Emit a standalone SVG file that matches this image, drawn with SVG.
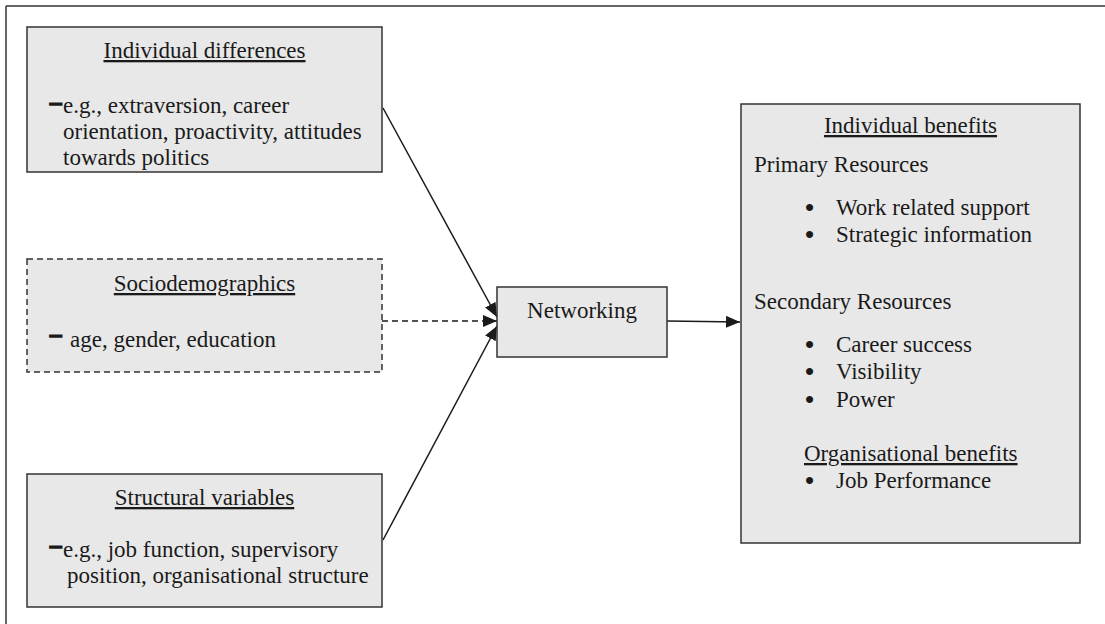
<svg xmlns="http://www.w3.org/2000/svg" width="1105" height="624" viewBox="0 0 1105 624">
  <style>
    .box { fill: #e8e8e8; stroke: #333333; stroke-width: 1.5; }
    .dashed { stroke-dasharray: 6 4; }
    text { font-family: "Liberation Serif", "Times New Roman", serif; font-size: 23px; fill: #1a1a1a; }
    .title { text-anchor: middle; text-decoration: underline; }
    .mid { text-anchor: middle; }
    .dash { font-weight: bold; stroke: #1a1a1a; stroke-width: 1.6; }
    .bullet { font-size: 26px; font-weight: bold; }
    .edge { stroke: #1a1a1a; stroke-width: 1.5; fill: none; }
  </style>
  <defs>
    <marker id="arrow" viewBox="0 0 14 12" refX="14" refY="6" markerWidth="14" markerHeight="12" markerUnits="userSpaceOnUse" orient="auto">
      <path d="M0,0 L14,6 L0,12 Z" fill="#1a1a1a"/>
    </marker>
  </defs>

  <rect width="1105" height="624" fill="#ffffff"/>
  <!-- frame: top and left rules -->
  <line x1="6" y1="6" x2="1105" y2="6" stroke="#333333" stroke-width="1.5"/>
  <line x1="6" y1="6" x2="6" y2="624" stroke="#333333" stroke-width="1.5"/>

  <g id="connectors">
    <line class="edge" x1="383" y1="108" x2="497" y2="317" marker-end="url(#arrow)"/>
    <line class="edge dashed" x1="382" y1="321" x2="497" y2="321" marker-end="url(#arrow)"/>
    <line class="edge" x1="383" y1="540" x2="497" y2="326" marker-end="url(#arrow)"/>
    <line class="edge" x1="667" y1="321" x2="740" y2="322" marker-end="url(#arrow)"/>
  </g>

  <g id="individual-differences">
    <rect class="box" x="27" y="27" width="355" height="145"/>
    <text class="title" x="204.5" y="58">Individual differences</text>
    <text class="dash" x="50" y="110">–</text>
    <text x="63" y="113">e.g., extraversion, career</text>
    <text x="63" y="139">orientation, proactivity, attitudes</text>
    <text x="63" y="165">towards politics</text>
  </g>

  <g id="sociodemographics">
    <rect class="box dashed" x="27" y="259" width="355" height="113"/>
    <text class="title" x="204.5" y="291">Sociodemographics</text>
    <text class="dash" x="50" y="342">–</text>
    <text x="70" y="347">age, gender, education</text>
  </g>

  <g id="structural-variables">
    <rect class="box" x="27" y="474" width="355" height="133"/>
    <text class="title" x="204.5" y="505">Structural variables</text>
    <text class="dash" x="50" y="553">–</text>
    <text x="63" y="557">e.g., job function, supervisory</text>
    <text x="67" y="583">position, organisational structure</text>
  </g>

  <g id="networking">
    <rect class="box" x="497" y="287" width="170" height="70"/>
    <text class="mid" x="582" y="318">Networking</text>
  </g>

  <g id="individual-benefits">
    <rect class="box" x="741" y="104" width="339" height="439"/>
    <text class="title" x="910.5" y="133">Individual benefits</text>
    <text x="754" y="172">Primary Resources</text>
    <text class="bullet" x="805" y="216">•</text>
    <text x="836" y="215">Work related support</text>
    <text class="bullet" x="805" y="243">•</text>
    <text x="836" y="242">Strategic information</text>
    <text x="754" y="309">Secondary Resources</text>
    <text class="bullet" x="805" y="353">•</text>
    <text x="836" y="352">Career success</text>
    <text class="bullet" x="805" y="380">•</text>
    <text x="836" y="379">Visibility</text>
    <text class="bullet" x="805" y="408">•</text>
    <text x="836" y="407">Power</text>
    <text x="804" y="461" style="text-decoration: underline">Organisational benefits</text>
    <text class="bullet" x="805" y="489">•</text>
    <text x="836" y="488">Job Performance</text>
  </g>
</svg>
